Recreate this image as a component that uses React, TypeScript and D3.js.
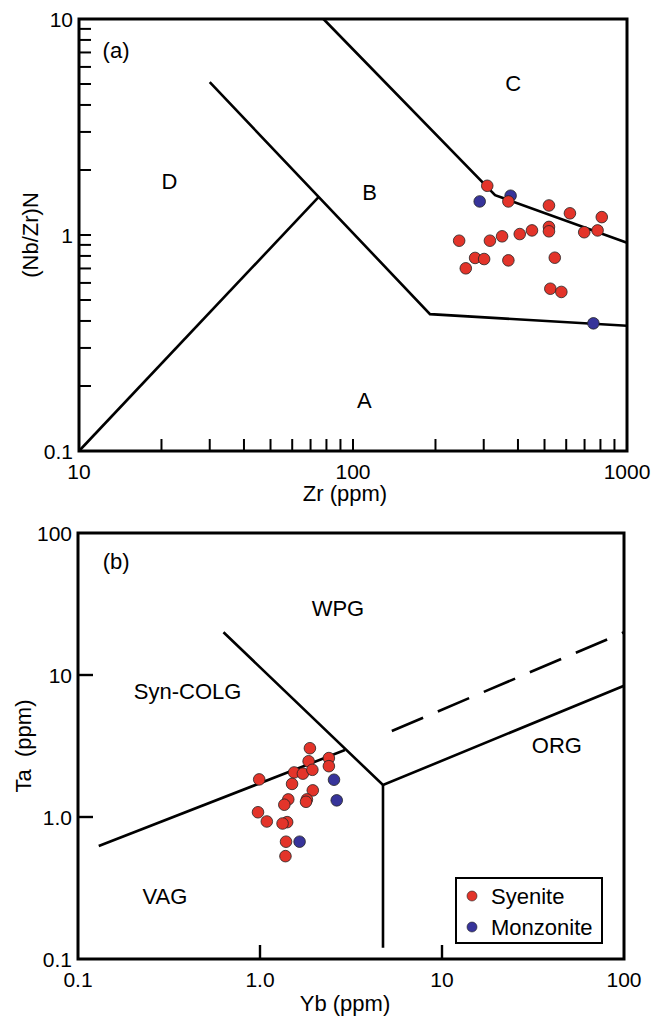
import React from "react";
import * as d3 from "d3";

// ---------- Data: plot (a) Zr vs (Nb/Zr)N ----------
const syeniteZr = [309, 369, 519, 619, 809, 698, 781, 519, 519, 450, 406, 350, 316, 244, 279, 301, 369, 545, 258, 525, 576];
const syeniteNbZr = [1.69, 1.43, 1.37, 1.26, 1.21, 1.03, 1.05, 1.09, 1.04, 1.05, 1.01, 0.986, 0.941, 0.941, 0.783, 0.774, 0.763, 0.785, 0.701, 0.564, 0.545];
const monzoniteZr = [290, 376, 754];
const monzoniteNbZr = [1.43, 1.52, 0.39];

// Boundaries (a)
const boundaryA1: [number, number][] = [[10, 0.1], [75, 1.5]];
const boundaryA2: [number, number][] = [[30, 5.1], [191, 0.43], [1000, 0.38]];
const boundaryA3: [number, number][] = [[78, 10], [330, 1.53], [1000, 0.92]];

const xTicksA = [10, 100, 1000];
const yTicksA = [0.1, 1, 10];
const regionLabelsA = [
  { t: "(a)", x: 13.65, y: 7.2 },
  { t: "C", x: 384, y: 5.06 },
  { t: "D", x: 21.4, y: 1.77 },
  { t: "B", x: 115, y: 1.58 },
  { t: "A", x: 110, y: 0.172 },
];

// ---------- Data: plot (b) Yb vs Ta ----------
const syeniteYb = [1.88, 1.85, 2.39, 2.39, 0.99, 1.54, 1.72, 1.94, 1.50, 1.95, 1.43, 1.36, 1.81, 1.79, 0.975, 1.09, 1.41, 1.33, 1.39, 1.38];
const syeniteTa = [3.05, 2.47, 2.60, 2.28, 1.84, 2.06, 2.02, 2.15, 1.71, 1.54, 1.33, 1.22, 1.33, 1.28, 1.08, 0.93, 0.92, 0.90, 0.67, 0.53];
const monzoniteYb = [2.55, 2.64, 1.65];
const monzoniteTa = [1.83, 1.31, 0.67];

const boundaryB1: [number, number][] = [[0.13, 0.625], [2.93, 2.96]];
const boundaryB2: [number, number][] = [[0.63, 20], [4.74, 1.68], [100, 8.4]];
const boundaryB3: [number, number][] = [[4.74, 1.68], [4.74, 0.12]];
const boundaryB4: [number, number][] = [[5.3, 4.03], [100, 20]];

const xTicksB = [0.1, 1, 10, 100];
const xTickLabelsB = ["0.1", "1.0", "10", "100"];
const yTicksB = [0.1, 1, 10, 100];
const yTickLabelsB = ["0.1", "1.0", "10", "100"];
const regionLabelsB = [
  { t: "(b)", x: 0.162, y: 63.5 },
  { t: "WPG", x: 2.68, y: 29.6 },
  { t: "Syn-COLG", x: 0.4, y: 7.7 },
  { t: "ORG", x: 42.8, y: 3.21 },
  { t: "VAG", x: 0.3, y: 0.278 },
];

const legendItems = ["Syenite", "Monzonite"];

const RED = "#e3342a";
const BLUE = "#37349a";
const FONT = "Liberation Sans, Arial, Helvetica, sans-serif";

export default function App() {
  // Plot a scales
  const xA = d3.scaleLog().domain([10, 1000]).range([79, 627]);
  const yA = d3.scaleLog().domain([0.1, 10]).range([451, 19]);
  const lineA = d3.line<[number, number]>().x((d) => xA(d[0])).y((d) => yA(d[1]));

  // Plot b scales
  const xB = d3.scaleLog().domain([0.1, 100]).range([78, 624]);
  const yB = d3.scaleLog().domain([0.1, 100]).range([959, 533]);
  const lineB = d3.line<[number, number]>().x((d) => xB(d[0])).y((d) => yB(d[1]));

  const minorA_x: number[] = [];
  for (const dec of [10, 100]) for (let k = 2; k <= 9; k++) minorA_x.push(dec * k);
  const minorA_y: number[] = [];
  for (const dec of [0.1, 1]) for (let k = 2; k <= 9; k++) minorA_y.push(dec * k);

  const sw = 2.6;
  const tick = 12;
  const fsTick = 21;
  const fsLab = 22;

  return (
    <svg width={651} height={1019} style={{ position: "absolute", left: 0, top: 0, background: "#fff" }} fontFamily={FONT}>
      {/* ---------- Plot A ---------- */}
      <g>
        {[100].concat(minorA_x).map((v, i) => (
          <line key={"xa" + i} x1={xA(v)} x2={xA(v)} y1={451} y2={451 - tick} stroke="#000" strokeWidth={2} />
        ))}
        {[1].concat(minorA_y).map((v, i) => (
          <line key={"ya" + i} x1={79} x2={79 + tick} y1={yA(v)} y2={yA(v)} stroke="#000" strokeWidth={2} />
        ))}
        <path d={lineA(boundaryA1)!} fill="none" stroke="#000" strokeWidth={sw} />
        <path d={lineA(boundaryA2)!} fill="none" stroke="#000" strokeWidth={sw} />
        <path d={lineA(boundaryA3)!} fill="none" stroke="#000" strokeWidth={sw} />
        <rect x={79} y={19} width={627 - 79} height={451 - 19} fill="none" stroke="#000" strokeWidth={3} />
        {xTicksA.map((v) => (
          <text key={"xl" + v} x={xA(v)} y={479} textAnchor="middle" fontSize={fsTick}>{v}</text>
        ))}
        {yTicksA.map((v) => (
          <text key={"yl" + v} x={73} y={yA(v) + 7.5} textAnchor="end" fontSize={fsTick}>{v}</text>
        ))}
        <text x={345} y={501} textAnchor="middle" fontSize={fsLab}>Zr (ppm)</text>
        <text transform={`translate(38, 235) rotate(-90)`} textAnchor="middle" fontSize={fsLab}>(Nb/Zr)N</text>
        {regionLabelsA.map((r) => (
          <text key={r.t} x={xA(r.x)} y={yA(r.y) + 8} textAnchor="middle" fontSize={fsLab}>{r.t}</text>
        ))}
        {monzoniteZr.map((v, i) => (
          <circle key={"ma" + i} cx={xA(v)} cy={yA(monzoniteNbZr[i])} r={5.8} fill={BLUE} stroke="#222" strokeWidth={0.8} />
        ))}
        {syeniteZr.map((v, i) => (
          <circle key={"sa" + i} cx={xA(v)} cy={yA(syeniteNbZr[i])} r={5.8} fill={RED} stroke="#222" strokeWidth={0.8} />
        ))}
      </g>

      {/* ---------- Plot B ---------- */}
      <g>
        {[1, 10].map((v) => (
          <line key={"xb" + v} x1={xB(v)} x2={xB(v)} y1={959} y2={959 - 14} stroke="#000" strokeWidth={2.4} />
        ))}
        {[1, 10].map((v) => (
          <line key={"yb" + v} x1={78} x2={78 + 15} y1={yB(v)} y2={yB(v)} stroke="#000" strokeWidth={2.4} />
        ))}
        <path d={lineB(boundaryB1)!} fill="none" stroke="#000" strokeWidth={sw} />
        <path d={lineB(boundaryB2)!} fill="none" stroke="#000" strokeWidth={sw} />
        <path d={lineB(boundaryB3)!} fill="none" stroke="#000" strokeWidth={sw} />
        <path d={lineB(boundaryB4)!} fill="none" stroke="#000" strokeWidth={sw} strokeDasharray="34 16" />
        <rect x={78} y={533} width={624 - 78} height={959 - 533} fill="none" stroke="#000" strokeWidth={3} />
        {xTicksB.map((v, i) => (
          <text key={"xlb" + v} x={xB(v)} y={987} textAnchor="middle" fontSize={fsTick}>{xTickLabelsB[i]}</text>
        ))}
        {yTicksB.map((v, i) => (
          <text key={"ylb" + v} x={72} y={yB(v) + 7.5} textAnchor="end" fontSize={fsTick}>{yTickLabelsB[i]}</text>
        ))}
        <text x={345} y={1011} textAnchor="middle" fontSize={fsLab}>Yb (ppm)</text>
        <text transform={`translate(31, 746) rotate(-90)`} textAnchor="middle" fontSize={fsLab} style={{ whiteSpace: "pre" }}>Ta  (ppm)</text>
        {regionLabelsB.map((r) => (
          <text key={r.t} x={xB(r.x)} y={yB(r.y) + 8} textAnchor="middle" fontSize={fsLab}>{r.t}</text>
        ))}
        {syeniteYb.map((v, i) => (
          <circle key={"sb" + i} cx={xB(v)} cy={yB(syeniteTa[i])} r={5.8} fill={RED} stroke="#222" strokeWidth={0.8} />
        ))}
        {monzoniteYb.map((v, i) => (
          <circle key={"mb" + i} cx={xB(v)} cy={yB(monzoniteTa[i])} r={5.8} fill={BLUE} stroke="#222" strokeWidth={0.8} />
        ))}
        {/* Legend */}
        <rect x={456} y={878} width={146} height={65} fill="#fff" stroke="#000" strokeWidth={2} />
        {legendItems.map((t, i) => (
          <g key={t}>
            <circle cx={472} cy={896 + i * 31} r={5} fill={i === 0 ? RED : BLUE} stroke="#222" strokeWidth={0.6} />
            <text x={491} y={904 + i * 31} fontSize={fsLab}>{t}</text>
          </g>
        ))}
      </g>
    </svg>
  );
}
